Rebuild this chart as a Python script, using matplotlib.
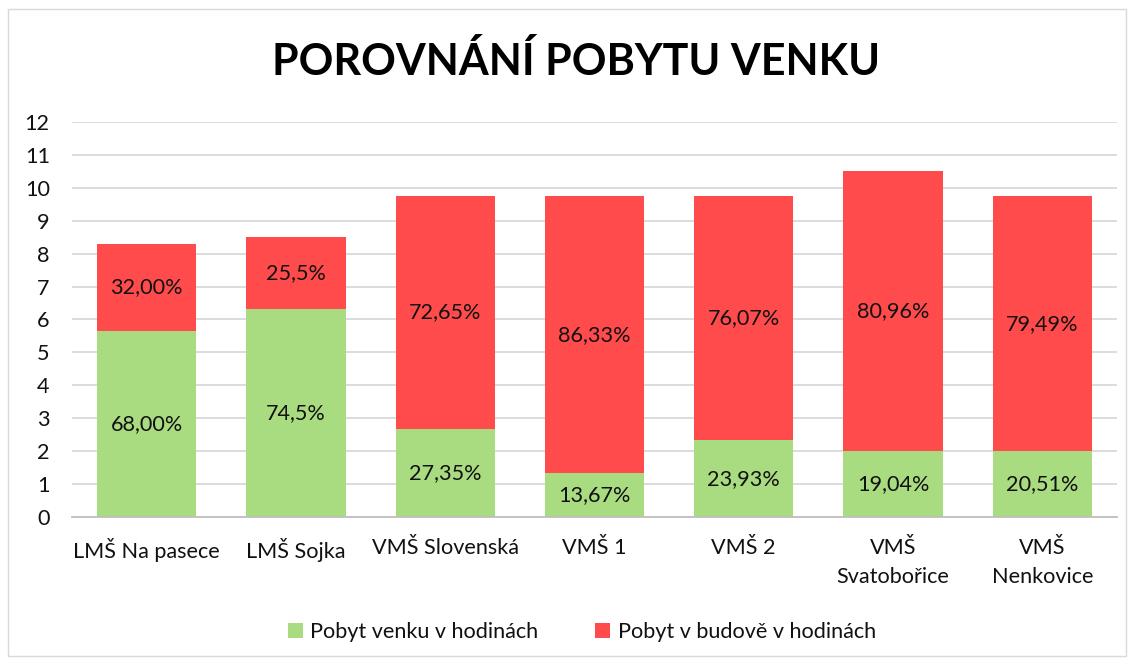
import matplotlib
matplotlib.use("Agg")
import matplotlib.pyplot as plt
from matplotlib.patches import Rectangle

plt.rcParams['font.family'] = ['Lato', 'DejaVu Sans']

categories = ["LMŠ Na pasece", "LMŠ Sojka", "VMŠ Slovenská", "VMŠ 1", "VMŠ 2",
              "VMŠ\nSvatobořice", "VMŠ\nNenkovice"]
outside = [5.65, 6.33, 2.67, 1.33, 2.33, 2.0, 2.0]
inside = [2.65, 2.17, 7.08, 8.42, 7.42, 8.5, 7.75]
outside_labels = ["68,00%", "74,5%", "27,35%", "13,67%", "23,93%", "19,04%", "20,51%"]
inside_labels = ["32,00%", "25,5%", "72,65%", "86,33%", "76,07%", "80,96%", "79,49%"]
yticks = list(range(0, 13))

green = "#A9DB80"
red = "#FF4B4B"
fs = 15.6

fig = plt.figure(figsize=(11.34, 6.64), dpi=100)
ax = fig.add_axes([0.0635, 0.2214, 0.9215, 0.5949])

x = list(range(len(categories)))
w = 0.665
ax.bar(x, outside, width=w, color=green, zorder=2, label="Pobyt venku v hodinách")
ax.bar(x, inside, width=w, bottom=outside, color=red, zorder=2, label="Pobyt v budově v hodinách")

for i in x:
    ax.text(i, outside[i] / 2, outside_labels[i], ha="center", va="center", fontsize=fs, color="#111111", zorder=3)
    ax.text(i, outside[i] + inside[i] / 2, inside_labels[i], ha="center", va="center", fontsize=fs, color="#111111", zorder=3)

ax.set_xlim(-0.5, len(categories) - 0.5)
ax.set_ylim(0, 12)
ax.set_yticks(yticks)
ax.set_yticklabels([str(t) for t in yticks], fontsize=fs)
ax.set_xticks(x)
ax.set_xticklabels(categories, fontsize=fs, linespacing=1.55)
ax.tick_params(axis="x", length=0, pad=15, colors="#111111")
ax.tick_params(axis="y", length=0, pad=16, colors="#111111")
ax.yaxis.grid(True, color="#D9D9D9", linewidth=1.3, zorder=0)
for s in ["top", "right", "left"]:
    ax.spines[s].set_visible(False)
ax.spines["bottom"].set_color("#BFBFBF")
ax.spines["bottom"].set_linewidth(1.3)

fig.text(0.508, 0.907, "POROVNÁNÍ POBYTU VENKU", ha="center", va="center",
         fontsize=31, fontweight="bold", color="#000000")

leg = fig.legend(loc="center", bbox_to_anchor=(0.513, 0.048), ncol=2, frameon=False,
                 fontsize=fs, handlelength=0.7, handleheight=0.7, handletextpad=0.35,
                 columnspacing=2.6)
for t in leg.get_texts():
    t.set_color("#111111")

fig.patches.append(Rectangle((0.007, 0.012), 0.986, 0.975, transform=fig.transFigure,
                             fill=False, edgecolor="#D9D9D9", linewidth=1.0))

fig.savefig("out.png", dpi=100)
